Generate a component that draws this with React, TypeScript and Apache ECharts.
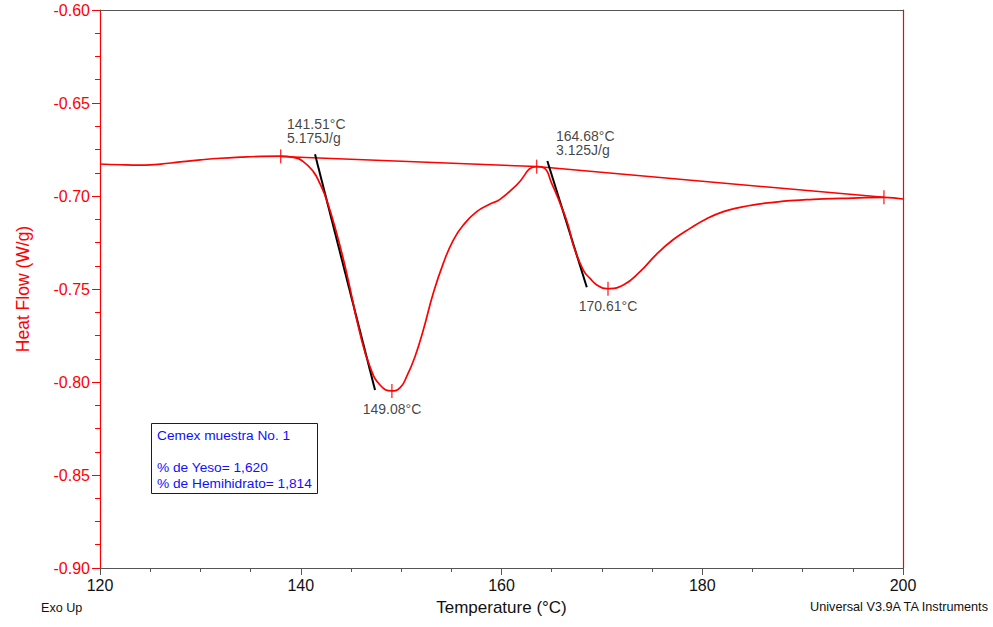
import React, { useEffect, useRef } from "react";
import * as echarts from "echarts";

// Heat flow curve: [Temperature °C, Heat Flow W/g]
const heatFlow: [number, number][] = [
  [120, -0.6828], [122, -0.6832], [124, -0.6834], [125, -0.6833], [126, -0.6829],
  [128, -0.6817], [130, -0.6806], [132, -0.6797], [134, -0.6791], [136, -0.6787],
  [138, -0.6786], [139.26, -0.6792], [140.25, -0.6815], [141.25, -0.6869],
  [141.9, -0.6932], [142.58, -0.7021], [143.58, -0.7201], [144.58, -0.7416],
  [145.9, -0.7738], [146.9, -0.7918], [147.9, -0.8016],
  [149.08, -0.8048], [149.9, -0.8030], [150.55, -0.7971], [151.38, -0.7864],
  [152.21, -0.7720], [153.2, -0.7523], [154.2, -0.7362], [155.2, -0.7237],
  [156.2, -0.7156], [157.53, -0.7084], [158.85, -0.7043], [159.85, -0.7018],
  [161.5, -0.6941], [163.5, -0.6842], [164.2, -0.6848], [165.0, -0.6932],
  [165.83, -0.7039], [166.6, -0.7150], [167.2, -0.7272], [168.15, -0.7398],
  [168.82, -0.7443], [169.5, -0.7478], [170.48, -0.7498], [172.14, -0.7478],
  [173.8, -0.7407], [175.46, -0.7312], [177.12, -0.7234], [178.78, -0.7174],
  [180.44, -0.7122], [182.1, -0.7084], [183.76, -0.7061], [185.42, -0.7045],
  [187.08, -0.7034], [188.74, -0.7025], [190.4, -0.7020], [192.06, -0.7015],
  [195, -0.7011], [198.1, -0.7007], [200, -0.7016],
];

// Integration baselines
const baseline: [number, number][] = [
  [138, -0.6787], [163.5, -0.6842], [198.1, -0.7007],
];

// Onset tangent lines
const tangent1: [number, number][] = [[141.42, -0.6775], [147.4, -0.8043]];
const tangent2: [number, number][] = [[164.57, -0.6812], [168.5, -0.7491]];

// Analysis markers (limits and peaks)
const markers: [number, number][] = [
  [138, -0.6787], [149.08, -0.8048], [163.5, -0.6842], [170.61, -0.7498], [198.1, -0.7007],
];

// Annotations: [T, value, text, align]
const annotations: [number, number, string, string][] = [
  [138.63, -0.6611, "141.51°C", "left"],
  [138.63, -0.6688, "5.175J/g", "left"],
  [165.43, -0.6676, "164.68°C", "left"],
  [165.43, -0.6753, "3.125J/g", "left"],
  [149.09, -0.8145, "149.08°C", "center"],
  [170.61, -0.7594, "170.61°C", "center"],
];

const legendLines = ["Cemex muestra No. 1", "", "% de Yeso= 1,620", "% de Hemihidrato= 1,814"];

const xMin = 120, xMax = 200, xStep = 20;
const yMin = -0.9, yMax = -0.6, yStep = 0.05;

const FONT = "'Liberation Sans', Arial, sans-serif";
const RED = "#ff0000";

export default function App() {
  const ref = useRef<HTMLDivElement>(null);
  useEffect(() => {
    if (!ref.current) return;
    const chart = echarts.init(ref.current, null, { renderer: "svg" });
    chart.setOption({
      animation: false,
      textStyle: { fontFamily: FONT },
      grid: { left: 100, right: 90, top: 10, bottom: 59, containLabel: false },
      xAxis: [
        {
          type: "value",
          min: xMin, max: xMax, interval: xStep,
          name: "Temperature (°C)",
          nameLocation: "middle",
          nameGap: 31,
          nameTextStyle: { color: "#111", fontSize: 17, fontFamily: FONT },
          axisLine: { lineStyle: { color: "#555", width: 1.2 } },
          axisTick: { length: 7, lineStyle: { color: "#555" } },
          minorTick: { show: true, splitNumber: 4, length: 4, lineStyle: { color: "#555" } },
          axisLabel: { color: "#111", fontSize: 16, margin: 9, fontFamily: FONT },
          splitLine: { show: false },
        },
        {
          type: "value", position: "top",
          min: xMin, max: xMax,
          axisLine: { show: true, lineStyle: { color: "#555", width: 1.2 } },
          axisTick: { show: false }, axisLabel: { show: false }, splitLine: { show: false },
        },
      ],
      yAxis: [
        {
          type: "value",
          min: yMin, max: yMax, interval: yStep,
          name: "Heat Flow (W/g)",
          nameLocation: "middle",
          nameGap: 68,
          nameTextStyle: { color: RED, fontSize: 17.5, fontFamily: FONT },
          axisLine: { show: true, lineStyle: { color: RED, width: 1.2 } },
          axisTick: { show: true, length: 8, lineStyle: { color: RED } },
          minorTick: { show: true, splitNumber: 4, length: 5, lineStyle: { color: RED } },
          axisLabel: {
            color: RED, fontSize: 16, margin: 10, fontFamily: FONT,
            formatter: (v: number) => v.toFixed(2),
          },
          splitLine: { show: false },
        },
        {
          type: "value", position: "right",
          min: yMin, max: yMax,
          axisLine: { show: true, lineStyle: { color: RED, width: 1.2 } },
          axisTick: { show: false }, axisLabel: { show: false }, splitLine: { show: false },
        },
      ],
      series: [
        {
          type: "line", data: baseline, showSymbol: false, symbol: "none",
          lineStyle: { color: RED, width: 1.5 }, silent: true,
        },
        {
          type: "line", data: tangent1, showSymbol: false, symbol: "none",
          lineStyle: { color: "#000", width: 2 }, silent: true,
        },
        {
          type: "line", data: tangent2, showSymbol: false, symbol: "none",
          lineStyle: { color: "#000", width: 2 }, silent: true,
        },
        {
          type: "line", data: heatFlow, showSymbol: false, symbol: "none",
          smooth: 0.5,
          lineStyle: { color: RED, width: 1.7 }, silent: true,
        },
        {
          type: "scatter", data: markers, symbol: "rect", symbolSize: [1.4, 14],
          itemStyle: { color: RED }, silent: true,
        },
        {
          type: "scatter",
          data: annotations.map((a) => ({
            value: [a[0], a[1]],
            label: {
              show: true, position: [0, 0], formatter: a[2],
              align: a[3], verticalAlign: "middle",
            },
          })),
          symbolSize: 0,
          itemStyle: { color: "rgba(0,0,0,0)" },
          label: { color: "#111", fontSize: 14, lineHeight: 14, fontFamily: FONT },
          silent: true,
        },
      ],
      graphic: [
        {
          type: "rect",
          shape: { x: 151.5, y: 423.5, width: 166, height: 70 },
          style: { fill: "#fff", stroke: "#0000ff", lineWidth: 1 },
          z: 10,
        },
        {
          type: "text", x: 157, y: 427, z: 11,
          style: {
            text: legendLines.join("\n"), fill: "#1010ff",
            fontSize: 13.7, lineHeight: 16, fontFamily: FONT,
            textAlign: "left", textVerticalAlign: "top",
          },
        },
        {
          type: "text", x: 41, y: 608, z: 11,
          style: {
            text: "Exo Up", fill: "#111", fontSize: 12.6, fontFamily: FONT,
            textAlign: "left", textVerticalAlign: "middle",
          },
        },
        {
          type: "text", x: 988, y: 607, z: 11,
          style: {
            text: "Universal V3.9A TA Instruments", fill: "#111", fontSize: 12.7, fontFamily: FONT,
            textAlign: "right", textVerticalAlign: "middle",
          },
        },
      ],
    });
    return () => chart.dispose();
  }, []);
  return (
    <div
      ref={ref}
      style={{ position: "fixed", left: 0, top: 0, width: 993, height: 627, background: "#fff" }}
    />
  );
}
